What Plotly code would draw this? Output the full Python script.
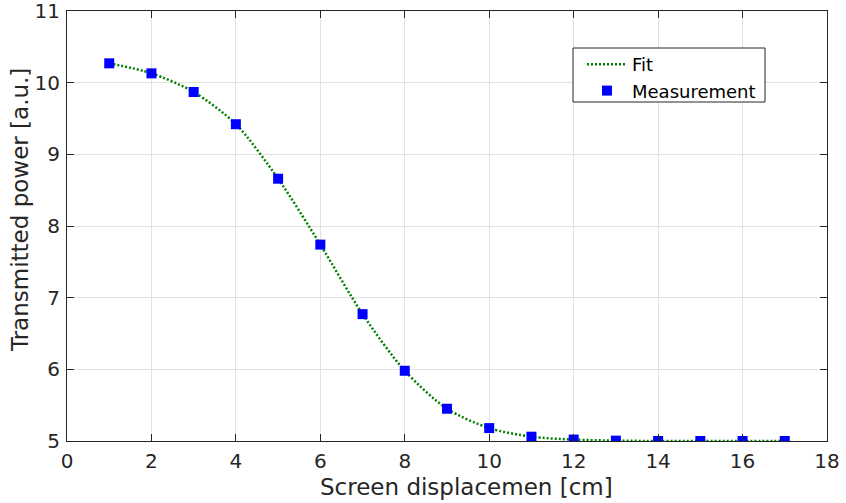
import plotly.graph_objects as go

displacement_cm = [1, 2, 3, 4, 5, 6, 7, 8, 9, 10, 11, 12, 13, 14, 15, 16, 17]
measured_power = [10.27, 10.13, 9.87, 9.42, 8.66, 7.74, 6.77, 5.98, 5.45, 5.18, 5.06, 5.02, 5.005, 5.0, 5.0, 5.0, 5.0]
fit_power = measured_power

x_ticks = [0, 2, 4, 6, 8, 10, 12, 14, 16, 18]
y_ticks = [5, 6, 7, 8, 9, 10, 11]

x_title = "Screen displacemen [cm]"
y_title = "Transmitted power [a.u.]"

FONT = "DejaVu Sans, sans-serif"
INK = "rgb(38,38,38)"

# plot-area geometry in pixels (for layout placement only)
L, R, T, B = 67, 827, 11, 441
PW, PH = R - L, B - T


def px_x(p):
    return (p - L) / PW


def px_y(p):
    return (B - p) / PH


fig = go.Figure()
fig.add_trace(go.Scatter(
    x=displacement_cm, y=fit_power, mode="lines", name="Fit",
    line=dict(color="rgb(0,128,0)", width=2.5, dash="2px,2px", shape="spline", smoothing=0.8),
))
fig.add_trace(go.Scatter(
    x=displacement_cm, y=measured_power, mode="markers", name="Measurement",
    marker=dict(symbol="square", size=10, color="rgb(0,0,255)", line=dict(width=0)),
))

axis_common = dict(
    showgrid=True, gridcolor="rgb(225,225,225)", gridwidth=1,
    showline=True, linecolor=INK, linewidth=1, mirror="ticks",
    ticks="inside", ticklen=7, tickcolor=INK, tickwidth=1,
    zeroline=False, automargin=False, ticklabeloverflow="allow",
    tickfont=dict(family=FONT, size=20, color=INK),
)

fig.update_layout(
    width=846, height=503,
    margin=dict(l=L, r=846 - R, t=T, b=503 - B),
    paper_bgcolor="white", plot_bgcolor="white",
    font=dict(family=FONT, color=INK),
    xaxis=dict(range=[0, 18], tickvals=x_ticks, ticklabelstandoff=2, **axis_common),
    yaxis=dict(range=[5, 11], tickvals=y_ticks, ticklabelstandoff=2, **axis_common),
    legend=dict(x=px_x(582), y=px_y(46), xanchor="left", yanchor="top",
                bgcolor="rgba(0,0,0,0)", borderwidth=0,
                font=dict(family=FONT, size=18, color="black"),
                tracegroupgap=0, itemwidth=40),
    showlegend=True,
    shapes=[
        dict(type="rect", xref="paper", yref="paper", layer="above",
             x0=px_x(573), x1=px_x(765), y0=px_y(102), y1=px_y(48),
             fillcolor="white", line=dict(color=INK, width=1)),
    ],
    annotations=[
        dict(text=x_title, xref="paper", yref="paper",
             x=px_x(466), y=px_y(487),
             xanchor="center", yanchor="middle", showarrow=False,
             font=dict(family=FONT, size=23, color=INK)),
        dict(text=y_title, xref="paper", yref="paper", textangle=-90,
             x=px_x(20), y=px_y(210),
             xanchor="center", yanchor="middle", showarrow=False,
             font=dict(family=FONT, size=23, color=INK)),
    ],
)

fig.write_html(
    "out.html",
    config={"displayModeBar": False},
    post_script="document.body.style.margin='0px';document.body.style.padding='0px';"
                "document.body.style.overflow='hidden';",
)
